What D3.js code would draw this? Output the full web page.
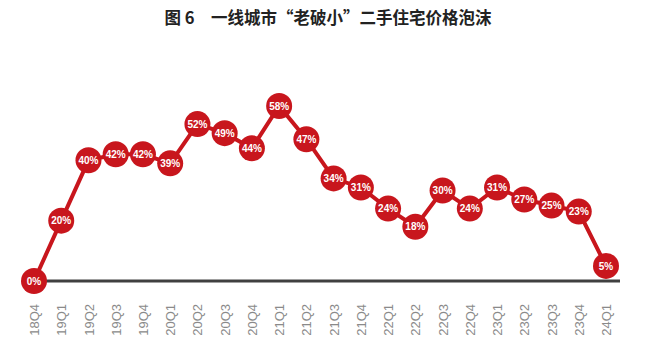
<!DOCTYPE html>
<html>
<head>
<meta charset="utf-8">
<script src="https://cdn.jsdelivr.net/npm/d3@7"></script>
<style>
  body { margin: 0; background: #fff; }
</style>
</head>
<body>
<div id="chart"></div>
<script>
var quarters = ["18Q4", "19Q1", "19Q2", "19Q3", "19Q4", "20Q1", "20Q2", "20Q3", "20Q4",
                "21Q1", "21Q2", "21Q3", "21Q4", "22Q1", "22Q2", "22Q3", "22Q4",
                "23Q1", "23Q2", "23Q3", "23Q4", "24Q1"];
var bubble = [0, 20, 40, 42, 42, 39, 52, 49, 44, 58, 47, 34, 31, 24, 18, 30, 24, 31, 27, 25, 23, 5];
var title = "图 6\u3000一线城市\u201c老破小\u201d二手住宅价格泡沫";

function init() {
    var w = 660;
    var h = 351;
    var red = "#c8161d";

    var svg = d3.select("#chart")
                .append("svg")
                .attr("width", w)
                .attr("height", h);

    var xScale = d3.scalePoint()
                   .domain(quarters)
                   .range([34, 606]);

    var yScale = d3.scaleLinear()
                   .domain([0, 58])
                   .range([281, 106]);

    // title
    svg.append("text")
       .attr("x", 328)
       .attr("y", 24)
       .attr("text-anchor", "middle")
       .attr("font-family", "'Noto Sans CJK SC', sans-serif")
       .attr("font-weight", "bold")
       .attr("font-size", 16.5)
       .attr("fill", "#222")
       .text(title);

    // baseline
    svg.append("line")
       .attr("x1", 44)
       .attr("x2", 620)
       .attr("y1", yScale(0))
       .attr("y2", yScale(0))
       .attr("stroke", "#404040")
       .attr("stroke-width", 3);

    // x labels, rotated
    var xAxis = d3.axisBottom(xScale).tickSize(0).tickPadding(0);
    var gx = svg.append("g")
                .attr("transform", "translate(0,304)")
                .call(xAxis);
    gx.select(".domain").remove();
    gx.selectAll("text")
      .attr("transform", "rotate(-90)")
      .attr("x", 0)
      .attr("y", 0)
      .attr("dy", "0.35em")
      .attr("text-anchor", "end")
      .attr("font-family", "'Liberation Sans', Arial, sans-serif")
      .attr("font-size", 13)
      .attr("fill", "#8a8a8a");

    var line = d3.line()
                 .x(function(d, i) { return xScale(quarters[i]); })
                 .y(function(d) { return yScale(d); });

    svg.append("path")
       .datum(bubble)
       .attr("d", line)
       .attr("fill", "none")
       .attr("stroke", red)
       .attr("stroke-width", 4);

    var dots = svg.selectAll("g.dot")
                  .data(bubble)
                  .enter()
                  .append("g")
                  .attr("class", "dot")
                  .attr("transform", function(d, i) {
                      return "translate(" + xScale(quarters[i]) + "," + yScale(d) + ")";
                  });

    dots.append("circle")
        .attr("r", 13)
        .attr("fill", red);

    dots.append("text")
        .attr("text-anchor", "middle")
        .attr("dy", "0.36em")
        .attr("font-family", "'Liberation Sans', Arial, sans-serif")
        .attr("font-weight", "bold")
        .attr("font-size", 10)
        .attr("fill", "#fff")
        .text(function(d) { return d + "%"; });
}

window.onload = init;
</script>
</body>
</html>
